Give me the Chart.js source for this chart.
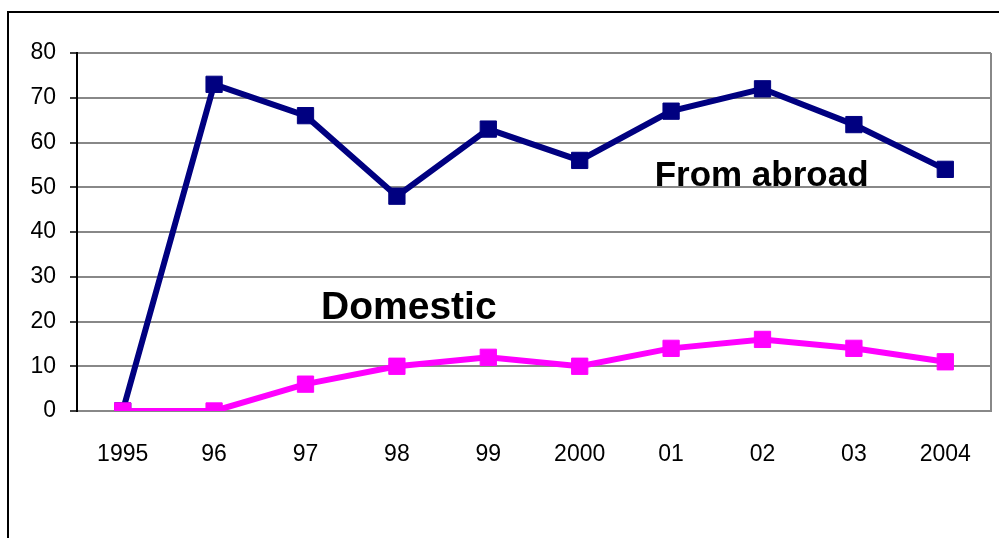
<!DOCTYPE html>
<html>
<head>
<meta charset="utf-8">
<script src="https://cdn.jsdelivr.net/npm/chart.js@4/dist/chart.umd.min.js"></script>
<style>
  html, body { margin: 0; padding: 0; background: #fff; overflow: hidden; }
  #wrap { position: relative; width: 999px; height: 538px; }
  #frame { position: absolute; left: 7px; top: 11px; width: 1100px; height: 700px; border: 2px solid #000; box-sizing: border-box; }
  canvas { position: absolute; left: 0; top: 0; }
</style>
</head>
<body>
<div id="wrap">
  <div id="frame"></div>
  <canvas id="c" width="999" height="538"></canvas>
</div>
<script>
const categories = ['1995', '96', '97', '98', '99', '2000', '01', '02', '03', '2004'];
const fromAbroad = [0, 73, 66, 48, 63, 56, 67, 72, 64, 54];
const domestic = [0, 0, 6, 10, 12, 10, 14, 16, 14, 11];
const yTicks = [0, 10, 20, 30, 40, 50, 60, 70, 80];
const seriesLabels = ['From abroad', 'Domestic'];

const FONT = "'Liberation Sans', Arial, sans-serif";

const labelPlugin = {
  id: 'seriesText',
  afterDatasetsDraw(chart) {
    const ctx = chart.ctx;
    const x = chart.scales.x, y = chart.scales.y;
    ctx.save();
    ctx.fillStyle = '#000';
    ctx.textBaseline = 'alphabetic';
    ctx.textAlign = 'left';
    ctx.font = "bold 35px " + FONT;
    ctx.fillText(seriesLabels[0], x.getPixelForValue(5.82), y.getPixelForValue(50.3));
    ctx.font = "bold 39px " + FONT;
    ctx.fillText(seriesLabels[1], x.getPixelForValue(2.17), y.getPixelForValue(20.5));
    ctx.restore();
  },
  beforeDatasetsDraw(chart) {
    const ctx = chart.ctx, a = chart.chartArea;
    ctx.save();
    ctx.strokeStyle = '#888';
    ctx.lineWidth = 2;
    ctx.beginPath();
    ctx.moveTo(a.right, a.top);
    ctx.lineTo(a.right, a.bottom);
    ctx.stroke();
    ctx.restore();
  }
};

new Chart(document.getElementById('c'), {
  type: 'line',
  data: {
    labels: categories,
    datasets: [
      {
        label: seriesLabels[1],
        data: domestic,
        borderColor: '#FF00FF',
        backgroundColor: '#FF00FF',
        borderWidth: 6,
        pointStyle: 'rect',
        pointRadius: 11.5,
        pointBorderWidth: 1,
        pointBackgroundColor: '#FF00FF',
        pointBorderColor: '#FF00FF',
        tension: 0,
        fill: false
      },
      {
        label: seriesLabels[0],
        data: fromAbroad,
        borderColor: '#000080',
        backgroundColor: '#000080',
        borderWidth: 6,
        pointStyle: 'rect',
        pointRadius: 11.5,
        pointBorderWidth: 1,
        pointBackgroundColor: '#000080',
        pointBorderColor: '#000080',
        tension: 0,
        fill: false
      }
    ]
  },
  options: {
    responsive: false,
    animation: false,
    devicePixelRatio: 1,
    layout: { autoPadding: false, padding: { top: 53, right: 8, left: 0, bottom: 0 } },
    plugins: { legend: { display: false }, tooltip: { enabled: false } },
    scales: {
      x: {
        type: 'category',
        offset: true,
        grid: { display: false, drawTicks: false, offset: true },
        border: { display: true, color: '#888', width: 2 },
        ticks: {
          color: '#000',
          font: { family: FONT, size: 23 },
          padding: 30,
          maxRotation: 0,
          autoSkip: false
        },
        afterFit(scale) { scale.height = 127; scale.paddingLeft = 0; scale.paddingRight = 0; }
      },
      y: {
        min: 0,
        max: 80,
        afterBuildTicks(scale) { scale.ticks = yTicks.map(v => ({ value: v })); },
        grid: { color: '#888', lineWidth: 2, drawTicks: true, tickLength: 7, tickColor: '#000', tickWidth: 1.5 },
        border: { display: true, color: '#000', width: 2 },
        ticks: {
          color: '#000',
          font: { family: FONT, size: 23 },
          padding: 14
        },
        afterFit(scale) { scale.width = 77; }
      }
    }
  },
  plugins: [labelPlugin]
});
</script>
</body>
</html>
